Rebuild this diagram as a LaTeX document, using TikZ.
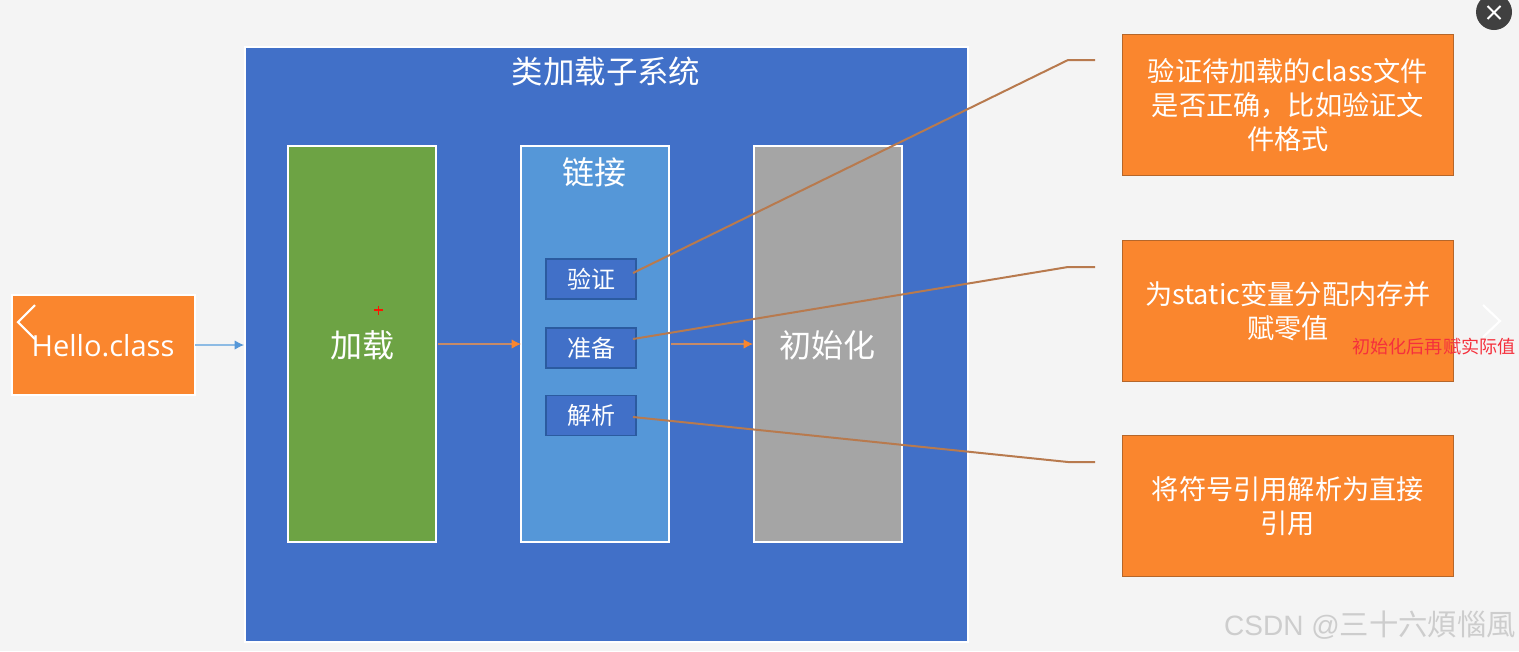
\documentclass[tikz,border=0pt]{standalone}
\usepackage{fontspec}
\setmainfont{Noto Sans CJK SC}
\newfontfamily\latinf{Open Sans}
\newfontfamily\wmlatin{Liberation Sans}
\usetikzlibrary{arrows.meta}
\definecolor{bgc}{HTML}{F4F4F4}
\definecolor{mainb}{HTML}{4170C8}
\definecolor{greenb}{HTML}{6DA344}
\definecolor{lightb}{HTML}{5597D8}
\definecolor{grayb}{HTML}{A5A5A5}
\definecolor{orangeb}{HTML}{FA862E}
\definecolor{orangee}{HTML}{B5662A}
\definecolor{linkc}{HTML}{B87A4E}
\definecolor{smalle}{HTML}{2B5BA0}
\definecolor{arrowo}{HTML}{C58A68}
\definecolor{arrowb}{HTML}{8DBBE4}
\definecolor{arrowbh}{HTML}{5597D8}
\definecolor{redt}{HTML}{F5303C}
\definecolor{wmark}{HTML}{CDCDCD}
\tikzset{
  box/.style={draw=white,line width=1.6pt,anchor=north west,inner sep=0pt,outer sep=0pt},
  stage/.style={box,fill=#1,minimum width=111pt,minimum height=297pt},
  small/.style={draw=smalle,line width=1.3pt,fill=mainb,text=white,minimum width=67.5pt,minimum height=30pt,inner sep=0pt,font=\fontsize{18}{20}\selectfont},
  note/.style={draw=orangee,line width=0.9pt,fill=orangeb,text=white,anchor=north west,minimum width=248pt,minimum height=105.5pt,inner sep=0pt,align=center,text width=225pt,font=\fontsize{20.4}{25.5}\selectfont},
  link/.style={draw=linkc,line width=1.5pt},
  flowo/.style={draw=arrowo,line width=0.8pt,-{Latex[length=7pt,width=7pt,color=orangeb]}},
  flowb/.style={draw=arrowb,line width=0.8pt,-{Latex[length=7pt,width=7pt,color=arrowbh]}},
  chev/.style={draw=white,line width=1.6pt},
}
\begin{document}
\begin{tikzpicture}[x=0.75pt,y=-0.75pt]
\useasboundingbox (0,0) rectangle (1519,651);
\fill[bgc] (0,0) rectangle (1519,651);

\node[box,fill=mainb,minimum width=542pt,minimum height=446.5pt] (sys) at (245,47) {};
\node[text=white,font=\fontsize{23.6}{28}\selectfont] (systitle) at (606,72) {类加载子系统};

\node[box,fill=orangeb,minimum width=137pt,minimum height=75pt,text=white] (hello) at (12,295) {};
\node[text=white,font=\latinf\fontsize{21.8}{25}\selectfont] (hellot) at (103,346) {Hello.class};

\node[stage=greenb] (load) at (288,146) {};
\node[text=white,font=\fontsize{24}{28}\selectfont] (loadt) at (362,345) {加载};
\node[stage=lightb] (linkb) at (521,146) {};
\node[text=white,font=\fontsize{24}{28}\selectfont] (linkt) at (594,172) {链接};
\node[stage=grayb] (init) at (754,146) {};
\node[text=white,font=\fontsize{24}{28}\selectfont] (initt) at (827,345) {初始化};

\node[small] (verify) at (591,279) {验证};
\node[small] (prep) at (591,348) {准备};
\node[small] (resolve) at (591,415.5) {解析};

\node[note] (n1) at (1122,34) {验证待加载的class文件\\是否正确，比如验证文\\件格式};
\node[note] (n2) at (1122,240) {为static变量分配内存并\\赋零值};
\node[note] (n3) at (1122,435) {将符号引用解析为直接\\引用};

\coordinate (v0) at (633,273);
\coordinate (p0) at (633,339);
\coordinate (r0) at (633,417);
\coordinate (v1) at (1068,60);
\coordinate (v2) at (1095,60);
\coordinate (p1) at (1068,267);
\coordinate (p2) at (1095,267);
\coordinate (r1) at (1068,462);
\coordinate (r2) at (1095,462);
\draw[link] (v0) -- (v1) -- (v2);
\draw[link] (p0) -- (p1) -- (p2);
\draw[link] (r0) -- (r1) -- (r2);

\coordinate (a1s) at (195,345);
\coordinate (a1e) at (244,345);
\coordinate (a2s) at (438,344);
\coordinate (a2e) at (521,344);
\coordinate (a3s) at (671,344);
\coordinate (a3e) at (753,344);
\draw[flowb] (a1s) -- (a1e);
\draw[flowo] (a2s) -- (a2e);
\draw[flowo] (a3s) -- (a3e);

\node[text=redt,font=\fontsize{13.6}{16}\selectfont,inner sep=0pt] (redn) at (1434,347) {初始化后再赋实际值};

\draw[red!85!orange,line width=0.8pt] (374,310) -- (383,310) (378.5,305.5) -- (378.5,314.5);

\draw[chev] (35,305) -- (18,322) -- (35,339);
\draw[chev] (1483,305) -- (1500,321) -- (1483,337);

\fill[black!75] (1494,12) circle[radius=18];
\draw[white,line width=1.4pt] (1487.5,6) -- (1500.5,19) (1500.5,6) -- (1487.5,19);

\node[text=wmark,font=\fontsize{22}{24}\selectfont,inner sep=0pt,anchor=east] (wm) at (1516,625) {{\wmlatin\fontsize{21}{24}\selectfont CSDN @}三十六煩惱風};
\end{tikzpicture}
\end{document}
